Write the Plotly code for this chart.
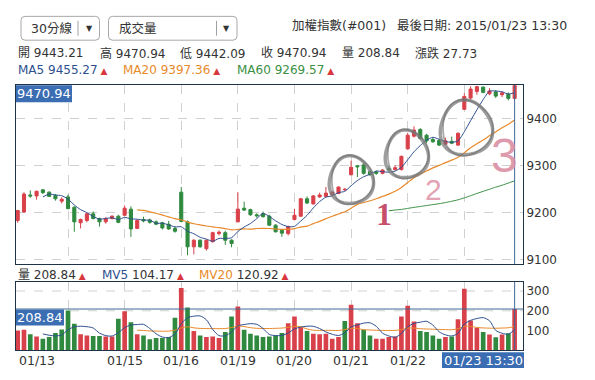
import numpy as np
import pandas as pd
import plotly.graph_objects as go

W, H = 595, 380


def px(x):
    return x / W


def py(y):
    return 1 - y / H


RED = "#d9414a"
GREEN = "#2f8a3f"
BLUE = "#2e4f8f"
ORANGE = "#e8892a"
MA60C = "#3b8f45"
NAVY = "#1e3348"
LABELBG = "#3b6db3"
TXT = "#333333"
FONT = "DejaVu Sans, Verdana, Noto Sans CJK TC, sans-serif"

# ---------------- data (30-minute bars, 2015/01/13 - 2015/01/23) ----------------
bar_index = list(range(1, 81))
opens = [9184, 9202, 9238, 9236, 9249, 9244, 9237, 9225, 9234, 9212,
         9179, 9184, 9198, 9188, 9181, 9188, 9193, 9195, 9208, 9167,
         9186, 9185, 9181, 9179, 9176, 9167, 9244, 9181, 9128, 9142,
         9124, 9139, 9156, 9158, 9142, 9181, 9210, 9207, 9196, 9198,
         9193, 9174, 9163, 9156, 9186, 9193, 9230, 9219, 9234, 9235,
         9238, 9241, 9249, 9281, 9300, 9302, 9288, 9287, 9284, 9294,
         9292, 9292, 9336, 9363, 9377, 9365, 9356, 9354, 9346, 9352,
         9344, 9420, 9444, 9458, 9467, 9453, 9457, 9451, 9452, 9443.21]
highs = [9206, 9244, 9248, 9247, 9250, 9246, 9240, 9233, 9239, 9214,
         9188, 9200, 9203, 9190, 9191, 9195, 9196, 9216, 9214, 9186,
         9192, 9188, 9184, 9181, 9183, 9172, 9255, 9184, 9144, 9144,
         9143, 9160, 9163, 9162, 9144, 9244, 9224, 9209, 9199, 9203,
         9196, 9176, 9165, 9173, 9209, 9232, 9235, 9238, 9243, 9255,
         9246, 9256, 9253, 9311, 9302, 9306, 9290, 9290, 9293, 9300,
         9301, 9322, 9370, 9384, 9380, 9368, 9360, 9357, 9360, 9362,
         9371, 9454, 9469, 9470, 9469, 9465, 9461, 9458, 9456, 9470.94]
lows = [9179, 9200, 9232, 9228, 9240, 9234, 9226, 9220, 9208, 9160,
        9167, 9180, 9186, 9171, 9177, 9186, 9178, 9194, 9149, 9166,
        9180, 9177, 9174, 9165, 9164, 9158, 9180, 9110, 9112, 9126,
        9120, 9137, 9152, 9132, 9127, 9180, 9204, 9194, 9190, 9190,
        9172, 9158, 9149, 9152, 9184, 9192, 9219, 9218, 9232, 9234,
        9236, 9240, 9247, 9280, 9276, 9281, 9279, 9281, 9282, 9288,
        9290, 9290, 9334, 9360, 9356, 9348, 9349, 9342, 9344, 9346,
        9342, 9419, 9441, 9451, 9454, 9450, 9444, 9446, 9439, 9442.09]
closes = [9205, 9240, 9236, 9246, 9243, 9235, 9230, 9229, 9209, 9181,
          9186, 9198, 9188, 9181, 9188, 9193, 9180, 9210, 9166, 9184,
          9183, 9180, 9176, 9168, 9166, 9161, 9182, 9128, 9142, 9128,
          9142, 9158, 9159, 9142, 9135, 9208, 9206, 9196, 9194, 9192,
          9174, 9160, 9157, 9171, 9195, 9230, 9221, 9236, 9238, 9242,
          9244, 9255, 9250, 9297, 9298, 9284, 9281, 9284, 9291, 9292,
          9296, 9320, 9365, 9376, 9358, 9353, 9351, 9344, 9353, 9348,
          9369, 9447, 9463, 9468, 9456, 9459, 9448, 9455, 9443.21, 9470.94]
volumes = [100, 104, 81, 70, 58, 67, 87, 105, 201, 134,
           81, 75, 72, 72, 70, 70, 160, 197, 142, 81,
           75, 55, 62, 62, 67, 165, 315, 217, 97, 75,
           67, 70, 62, 92, 171, 222, 104, 84, 75, 67,
           70, 75, 87, 137, 171, 117, 97, 84, 81, 84,
           58, 67, 148, 231, 137, 104, 75, 58, 58, 67,
           70, 171, 226, 146, 97, 92, 75, 58, 67, 70,
           157, 312, 151, 113, 92, 80, 66, 80, 86, 208.84]

# header statistics as printed on the chart
stat_open, stat_high, stat_low, stat_close = "9443.21", "9470.94", "9442.09", "9470.94"
stat_vol, stat_change = "208.84", "27.73"
stat_ma5, stat_ma20, stat_ma60 = "9455.27", "9397.36", "9269.57"
stat_mv5, stat_mv20 = "104.17", "120.92"

day_start_index = [9, 18, 27, 36, 45, 54, 63, 72]
date_labels = ["01/15", "01/16", "01/19", "01/20", "01/21", "01/22"]
date_label_index = [18, 27, 36, 45, 54, 63]
first_date_label = "01/13"
last_label = "01/23 13:30"
price_ticks = [9100, 9200, 9300, 9400]
vol_ticks = [100, 200, 300]

# derived series
cs = pd.Series(closes)
ma5 = cs.rolling(5).mean()
ma20 = cs.rolling(20).mean()
ma60 = cs.rolling(60).mean()
vs = pd.Series(volumes)
mv5 = vs.rolling(5).mean()
mv20 = vs.rolling(20).mean()
prev = [opens[0]] + closes[:-1]
vol_colors = [RED if c >= p else GREEN for c, p in zip(closes, prev)]

fig = go.Figure()

fig.add_trace(go.Candlestick(
    x=bar_index, open=opens, high=highs, low=lows, close=closes,
    xaxis="x", yaxis="y",
    increasing=dict(line=dict(color=RED, width=1), fillcolor=RED),
    decreasing=dict(line=dict(color=GREEN, width=1), fillcolor=GREEN),
    whiskerwidth=0, hoverinfo="skip", showlegend=False))

for s, c, w in [(ma60, MA60C, 1), (ma20, ORANGE, 1.2), (ma5, BLUE, 1)]:
    fig.add_trace(go.Scatter(x=bar_index, y=s, mode="lines", xaxis="x", yaxis="y",
                             line=dict(color=c, width=w, shape="spline", smoothing=0.6),
                             hoverinfo="skip", showlegend=False))

fig.add_trace(go.Bar(x=bar_index, y=volumes, xaxis="x2", yaxis="y2",
                     marker=dict(color=vol_colors, line=dict(width=0)), width=0.74,
                     hoverinfo="skip", showlegend=False))
for s, c in [(mv20, ORANGE), (mv5, BLUE)]:
    fig.add_trace(go.Scatter(x=bar_index, y=s, mode="lines", xaxis="x2", yaxis="y2",
                             line=dict(color=c, width=1, shape="spline", smoothing=0.8),
                             hoverinfo="skip", showlegend=False))

xr = [0.73, 81.33]
xdom = [px(16), px(523)]
common_x = dict(range=xr, domain=xdom, tickvals=day_start_index, showticklabels=False,
                showgrid=True, griddash="dash", gridcolor="#d0d0d0", gridwidth=1,
                zeroline=False, showline=True, mirror=True, linecolor=NAVY, linewidth=1,
                ticks="", fixedrange=True)

shapes = []
annotations = []

# volume dashed grid
for v in [200, 300]:
    shapes.append(dict(type="line", xref="paper", yref="y2", x0=xdom[0], x1=xdom[1], y0=v, y1=v,
                       line=dict(color="#d0d0d0", width=1, dash="dash"), layer="below"))

# crosshair
cross = "#3f6a94"
shapes.append(dict(type="line", xref="x", yref="paper", x0=80, x1=80, y0=py(266), y1=py(86),
                   line=dict(color=cross, width=1)))
shapes.append(dict(type="line", xref="x2", yref="paper", x0=80, x1=80, y0=py(353), y1=py(284),
                   line=dict(color=cross, width=1)))
shapes.append(dict(type="line", xref="paper", yref="y2", x0=xdom[0], x1=xdom[1], y0=volumes[-1],
                   y1=volumes[-1], line=dict(color=cross, width=1)))


def box(x0, y0, x1, y1, text, size=13):
    shapes.append(dict(type="rect", xref="paper", yref="paper", x0=px(x0), x1=px(x1),
                       y0=py(y1), y1=py(y0), fillcolor=LABELBG, line=dict(width=0)))
    annotations.append(dict(xref="paper", yref="paper", x=px((x0 + x1) / 2), y=py((y0 + y1) / 2),
                            text=text, showarrow=False, xanchor="center", yanchor="middle",
                            font=dict(family=FONT, size=size, color="white")))


box(16, 86, 72, 103, stat_close)
box(16, 312, 64, 328, stat_vol)
box(442, 355, 524, 371, last_label)

# date labels
annotations.append(dict(xref="paper", yref="paper", x=px(17), y=py(363), text=first_date_label,
                        showarrow=False, xanchor="left", yanchor="middle",
                        font=dict(family=FONT, size=12.5, color=TXT)))
for lab, idx in zip(date_labels, date_label_index):
    annotations.append(dict(xref="x2", yref="paper", x=idx, y=py(363), text=lab,
                            showarrow=False, xanchor="center", yanchor="middle",
                            font=dict(family=FONT, size=12.5, color=TXT)))


def txt(x, y, text, color=TXT, size=12, anchor="left", family=FONT):
    annotations.append(dict(xref="paper", yref="paper", x=px(x), y=py(y), text=text,
                            showarrow=False, xanchor=anchor, yanchor="middle",
                            font=dict(family=family, size=size, color=color)))


TRI = '<span style="color:#d9363e;font-size:9px"> ▲</span>'


# header dropdowns
def rrect(x0, y0, x1, y1, r=4):
    pts = (f"M{px(x0 + r)},{py(y0)} L{px(x1 - r)},{py(y0)} Q{px(x1)},{py(y0)} {px(x1)},{py(y0 + r)} "
           f"L{px(x1)},{py(y1 - r)} Q{px(x1)},{py(y1)} {px(x1 - r)},{py(y1)} "
           f"L{px(x0 + r)},{py(y1)} Q{px(x0)},{py(y1)} {px(x0)},{py(y1 - r)} "
           f"L{px(x0)},{py(y0 + r)} Q{px(x0)},{py(y0)} {px(x0 + r)},{py(y0)} Z")
    shapes.append(dict(type="path", xref="paper", yref="paper", path=pts,
                       line=dict(color="#a8a8a8", width=1), fillcolor="white"))


rrect(21, 16.5, 99.5, 40.5)
rrect(108.5, 16.5, 237, 40.5)
for sx in [78, 216.5]:
    shapes.append(dict(type="line", xref="paper", yref="paper", x0=px(sx), x1=px(sx),
                       y0=py(21), y1=py(36), line=dict(color="#a0a0a0", width=1)))
txt(29, 28.5, "30分線", size=12.5)
txt(89, 29, "▼", size=8, anchor="center")
txt(116.5, 28.5, "成交量", size=12.5)
txt(226, 29, "▼", size=8, anchor="center")

txt(290, 25.5, "加權指數(#001)", size=12.5)
txt(395, 25.5, "最後日期: 2015/01/23 13:30", size=12.5)

# OHLC line
txt(16, 53.5, f"開 {stat_open}")
txt(98, 53.5, f"高 {stat_high}")
txt(178, 53.5, f"低 {stat_low}")
txt(259, 53.5, f"收 {stat_close}")
txt(340, 53.5, f"量 {stat_vol}")
txt(413, 53.5, f"漲跌 {stat_change}")

txt(16, 71, f"MA5 {stat_ma5}" + TRI, color=BLUE)
txt(121, 71, f"MA20 {stat_ma20}" + TRI, color=ORANGE)
txt(235, 71, f"MA60 {stat_ma60}" + TRI, color=MA60C)

txt(16, 277.5, f"量 {stat_vol}" + TRI)
txt(100, 277.5, f'<span style="color:{BLUE}">MV5</span> {stat_mv5}' + TRI)
txt(197, 277.5, f'<span style="color:{ORANGE}">MV20</span> {stat_mv20}' + TRI)


# hand-drawn circles (decoration)
def scribble(cx, cy, rx, ry, start, phase, width, color):
    t = np.linspace(start, start + 2 * np.pi * 1.08, 90)
    f = 1 + 0.05 * np.sin(3 * t + phase)
    xs = cx + rx * np.cos(t) * f
    ys = cy + ry * np.sin(t) * f
    path = "M" + " L".join(f"{px(a):.5f},{py(b):.5f}" for a, b in zip(xs, ys))
    shapes.append(dict(type="path", xref="paper", yref="paper", path=path,
                       line=dict(color=color, width=width)))


for cx, cy, rx, ry in [(351, 182, 22, 24), (406.5, 156, 21.5, 24), (466, 129.5, 26, 27.5)]:
    scribble(cx, cy, rx, ry, -2.6, 0.4, 3.4, "rgba(125,125,125,0.75)")
    scribble(cx + 0.8, cy - 0.6, rx - 1, ry + 0.5, -2.4, 1.5, 1.8, "rgba(110,110,110,0.6)")

# hand-written numbers
txt(384, 216, "<b>1</b>", color="rgba(190,55,85,0.9)", size=32, anchor="center",
    family="Liberation Serif")
txt(433, 191, "2", color="rgba(222,150,170,0.9)", size=30, anchor="center",
    family="Liberation Sans Narrow, Liberation Sans")
txt(504, 157, "3", color="rgba(218,140,162,0.9)", size=48, anchor="center",
    family="Liberation Sans Narrow, Liberation Sans")

fig.update_layout(
    width=W, height=H, autosize=False,
    margin=dict(l=0, r=0, t=0, b=0, pad=0),
    paper_bgcolor="white", plot_bgcolor="white",
    showlegend=False, dragmode=False,
    xaxis=dict(anchor="y", rangeslider=dict(visible=False), **common_x),
    xaxis2=dict(anchor="y2", **common_x),
    yaxis=dict(domain=[py(266), py(86)], range=[9091.7, 9470.94], side="right", anchor="x",
               tickvals=price_ticks, showgrid=True, griddash="dash", gridcolor="#d0d0d0",
               zeroline=False, showline=True, mirror=True, linecolor=NAVY, linewidth=1,
               ticks="", tickfont=dict(family=FONT, size=12, color=TXT), fixedrange=True),
    yaxis2=dict(domain=[py(353), py(284)], range=[0, 347], side="right", anchor="x2",
                tickvals=vol_ticks, showgrid=False, zeroline=False, showline=True, mirror=True,
                linecolor=NAVY, linewidth=1, ticks="",
                tickfont=dict(family=FONT, size=12, color=TXT), fixedrange=True),
    shapes=shapes, annotations=annotations,
)

fig.write_html("out.html")
